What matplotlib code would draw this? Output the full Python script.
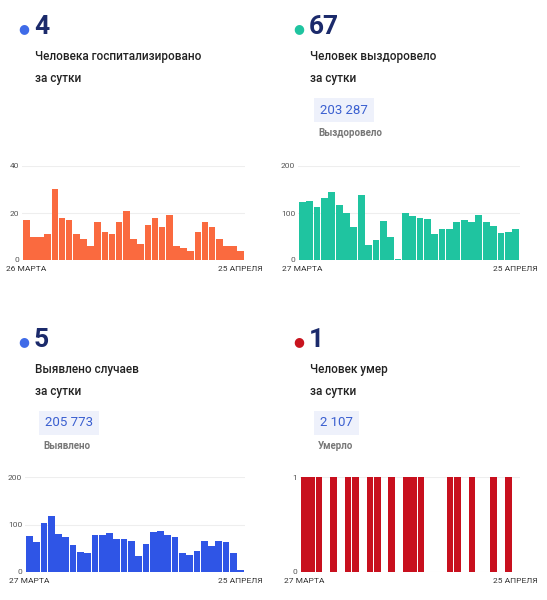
import matplotlib
matplotlib.use("Agg")
import matplotlib.pyplot as plt

plt.rcParams['font.family'] = ['Roboto', 'DejaVu Sans']

hosp = [17,10,10,11,30,18,17,11,9,6,16,12,11,16,21,9,7,15,18,14,19,6,5,4,12,16,14,9,6,6,4]
recov = [123,126,112,132,145,116,101,70,139,32,43,84,49,2,100,93,90,88,55,67,65,80,85,80,95,81,72,58,60,66]
cases = [75,63,103,117,79,74,56,43,40,78,77,82,69,70,65,33,60,85,87,77,73,40,35,44,66,54,65,64,39,4]
deaths = [1,1,1,0,1,0,1,1,0,1,1,0,1,0,1,1,1,0,0,0,1,1,0,1,0,0,1,0,1,0]

panels = [
    dict(num="4", dot="#3f6be8", title="Человека госпитализировано\nза сутки", total=None, tlabel=None,
         data=hosp, color="#fa6a3f", ymax=40, yticks=[0,20,40], start="26 МАРТА",
         ax=(22, 166, 245, 260), tx=18, ty=27),
    dict(num="67", dot="#1fc4a0", title="Человек выздоровело\nза сутки", total="203 287", tlabel="Выздоровело",
         data=recov, color="#1fc4a0", ymax=200, yticks=[0,100,200], start="27 МАРТА",
         ax=(298, 166, 520, 260), tx=293, ty=27),
    dict(num="5", dot="#3f6be8", title="Выявлено случаев\nза сутки", total="205 773", tlabel="Выявлено",
         data=cases, color="#2f55e6", ymax=200, yticks=[0,100,200], start="27 МАРТА",
         ax=(25, 477, 245, 572), tx=18, ty=340),
    dict(num="1", dot="#c8141e", title="Человек умер\nза сутки", total="2 107", tlabel="Умерло",
         data=deaths, color="#c8101e", ymax=1, yticks=[0,1], start="27 МАРТА",
         ax=(300, 477, 520, 572), tx=293, ty=340),
]

W, H = 547, 600
fig = plt.figure(figsize=(W/100, H/100), dpi=100)
fig.patch.set_facecolor("white")

for p in panels:
    tx, ty = p["tx"], p["ty"]
    fig.text((tx)/W, 1-(ty+2)/H, "●", color=p["dot"], fontsize=9, va="center", ha="left")
    fig.text((tx+16)/W, 1-ty/H, p["num"], color="#1b2a6b", fontsize=19, fontweight="bold", va="center", ha="left")
    fig.text((tx+17)/W, 1-(ty+23)/H, p["title"], color="#222222", fontsize=8.5, fontweight="medium",
             va="top", ha="left", linespacing=1.9)
    if p["total"]:
        fig.text((tx+27)/W, 1-(ty+83)/H, p["total"], color="#3a5fd0", fontsize=9.5, va="center", ha="left",
                 bbox=dict(boxstyle="square,pad=0.45", fc="#eef1fb", ec="none"))
        fig.text((tx+25)/W, 1-(ty+106)/H, p["tlabel"], color="#777777", fontsize=7, fontweight="bold",
                 va="center", ha="left")
    x0, y0, x1, y1 = p["ax"]
    ax = fig.add_axes([x0/W, 1-y1/H, (x1-x0)/W, (y1-y0)/H])
    n = len(p["data"])
    ax.bar(range(n), p["data"], width=0.92, color=p["color"])
    ax.set_xlim(-0.6, n-0.4)
    ax.set_ylim(0, p["ymax"])
    ax.set_yticks(p["yticks"])
    ax.tick_params(axis="y", length=0, labelsize=6, labelcolor="#555555", pad=2)
    ax.set_xticks([0, n-1])
    ax.set_xticklabels([p["start"], "25 АПРЕЛЯ"], fontsize=6, color="#333333")
    ax.tick_params(axis="x", length=0, pad=4)
    for lbl, ha in zip(ax.get_xticklabels(), ["center", "center"]):
        lbl.set_ha(ha)
    ax.grid(axis="y", color="#eeeeee", lw=0.8)
    ax.set_axisbelow(True)
    for s in ax.spines.values():
        s.set_visible(False)

fig.savefig("out.png", dpi=100, facecolor="white")
